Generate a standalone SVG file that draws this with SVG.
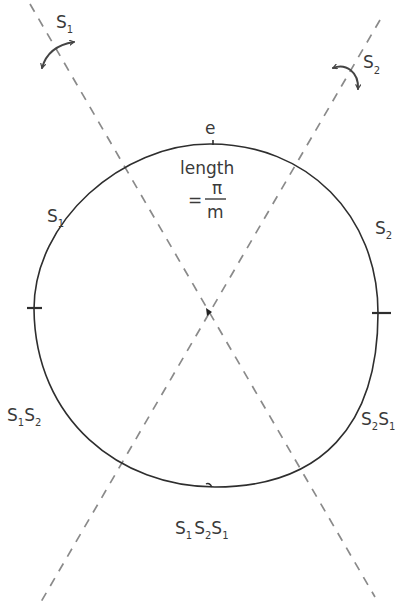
<svg xmlns="http://www.w3.org/2000/svg" width="397" height="612" viewBox="0 0 397 612">
<style>
.lbl{font-family:"DejaVu Sans","Liberation Sans",sans-serif;fill:#3a3a3a;font-size:17px}
.sub{font-size:10px}
.dash{stroke:#8a8a8a;stroke-width:1.7;stroke-dasharray:9 8;fill:none}
.loop{stroke:#2e2e2e;stroke-width:1.6;fill:none;stroke-linecap:round}
.arr{stroke:#444;stroke-width:2;fill:none;stroke-linecap:round}
</style>
<defs>
<marker id="ah" viewBox="0 0 10 10" refX="8" refY="5" markerWidth="6" markerHeight="6" orient="auto-start-reverse" markerUnits="userSpaceOnUse">
<path d="M1,1 L8,5 L1,9" fill="none" stroke="#444" stroke-width="2" stroke-linecap="round"/>
</marker>
</defs>
<rect width="397" height="612" fill="#fff"/>
<g id="mirrors">
<line class="dash" x1="30" y1="4" x2="375" y2="597"/>
<line class="dash" x1="380" y1="20" x2="38" y2="607"/>
</g>
<g id="loop">
<path class="loop" d="M34,309 C34,221 122,144 210,144 C307,144 378,215 378,313 C378,426 321,487 215,487 C120,487 35,420 34,309 Z"/>
<line x1="27" y1="308" x2="42" y2="308" stroke="#2e2e2e" stroke-width="2.2"/>
<line x1="372" y1="313" x2="391" y2="313" stroke="#2e2e2e" stroke-width="2.2"/>
<line x1="213" y1="140" x2="213" y2="145" stroke="#2e2e2e" stroke-width="1.6"/>
<path d="M206,484 Q209,482 212,487" stroke="#2e2e2e" stroke-width="1.4" fill="none"/>
<path d="M206,308 L212,312 L207,316 Z" fill="#222"/>
</g>
<g id="rotations">
<path class="arr" d="M42,68 Q48,46 74,42" marker-start="url(#ah)" marker-end="url(#ah)"/>
<path class="arr" d="M333,68 C346,63 359,72 358,89" marker-start="url(#ah)" marker-end="url(#ah)"/>
</g>
<g id="labels">
<text class="lbl" x="56" y="28">S<tspan class="sub" dy="5">1</tspan></text>
<text class="lbl" x="363" y="68">S<tspan class="sub" dy="6">2</tspan></text>
<text class="lbl" x="205" y="134" font-size="20">e</text>
<text class="lbl" x="180" y="174" font-size="16">length</text>
<text class="lbl" x="188" y="206" font-size="15">=</text>
<text class="lbl" x="212" y="194" font-size="11">π</text>
<line x1="205" y1="199" x2="226" y2="199" stroke="#3a3a3a" stroke-width="1.4"/>
<text class="lbl" x="207" y="218" font-size="14">m</text>
<text class="lbl" x="47" y="222">S<tspan class="sub" dy="5">1</tspan></text>
<text class="lbl" x="375" y="234">S<tspan class="sub" dy="5">2</tspan></text>
<text class="lbl" x="7" y="421">S<tspan class="sub" dy="5">1</tspan><tspan dy="-5">S</tspan><tspan class="sub" dy="5">2</tspan></text>
<text class="lbl" x="361" y="425">S<tspan class="sub" dy="5">2</tspan><tspan dy="-5">S</tspan><tspan class="sub" dy="5">1</tspan></text>
<text class="lbl" x="175" y="534">S<tspan class="sub" dy="5">1</tspan><tspan dy="-5" dx="2">S</tspan><tspan class="sub" dy="5">2</tspan><tspan dy="-5">S</tspan><tspan class="sub" dy="5">1</tspan></text>
</g>
</svg>
